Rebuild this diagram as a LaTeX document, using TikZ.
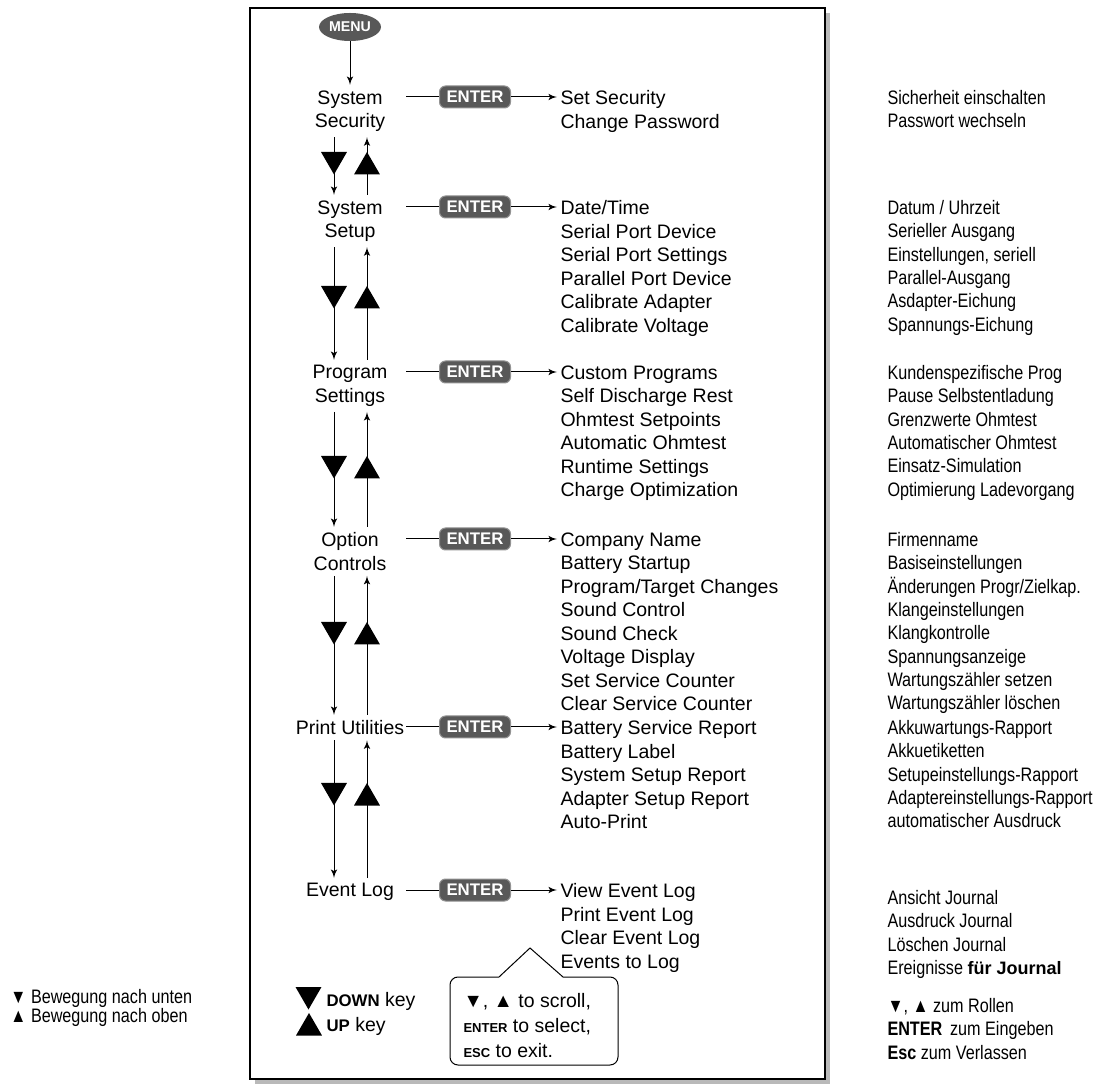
\documentclass[tikz,border=0pt]{standalone}
\usepackage{fontspec}
\setmainfont{Liberation Sans}
\newfontfamily\narrowfont[FakeStretch=0.83]{Liberation Sans}
\usetikzlibrary{positioning, calc, arrows, shapes.geometric}
\definecolor{keygray}{RGB}{88,88,88}
\tikzstyle{menubtn}=[ellipse, fill=keygray, text=white, minimum width=31pt, minimum height=14pt, inner sep=0pt, font=\bfseries\fontsize{7.1}{8}\selectfont]
\tikzstyle{menuitem}=[anchor=north, align=center, inner xsep=0pt, inner ysep=2.5pt]
\tikzstyle{enterkey}=[rounded corners=3pt, fill=keygray, draw=keygray!65, text=white, minimum width=35.5pt, minimum height=11pt, inner sep=0pt, font=\bfseries\fontsize{8.4}{10}\selectfont]
\tikzstyle{sublist}=[anchor=north west, align=left, inner sep=1.5pt]
\tikzstyle{german}=[anchor=north west, align=left, inner sep=0pt, font=\narrowfont\fontsize{9.75}{11.65}\selectfont]
\tikzstyle{downtri}=[regular polygon, regular polygon sides=3, regular polygon rotate=180, minimum size=15pt, inner sep=0pt, fill=black]
\tikzstyle{uptri}=[regular polygon, regular polygon sides=3, minimum size=15pt, inner sep=0pt, fill=black]

\begin{document}
\begin{tikzpicture}[x=0.5pt, y=-0.5pt, >=latex', line width=0.5pt, font=\fontsize{9.75}{11.75}\selectfont]
    \useasboundingbox (0,0) rectangle (1099,1085);
    % frame
    \fill[gray!55] (255,13) rectangle (830,1084);
    \draw[fill=white, line width=1pt] (250,8) rectangle (825,1079);

    \coordinate (dn) at (334,0);
    \coordinate (up) at (367,0);
    \coordinate (ls) at (406,0);

    \node [menubtn] (menu) at (350,27) {MENU};

    \node [menuitem] (sec) at (350,85) {System\\Security};
    \node [menuitem] (setup) at (350,195) {System\\Setup};
    \node [menuitem] (prog) at (350,360) {Program\\Settings};
    \node [menuitem] (opt) at (350,527) {Option\\Controls};
    \node [menuitem] (prnt) at (350,715) {Print Utilities};
    \node [menuitem] (evlog) at (350,878) {Event Log};

    \node [enterkey] (e1) at (475,97) {ENTER};
    \node [enterkey] (e2) at (475,207) {ENTER};
    \node [enterkey] (e3) at (475,372) {ENTER};
    \node [enterkey] (e4) at (475,539) {ENTER};
    \node [enterkey] (e5) at (475,727) {ENTER};
    \node [enterkey] (e6) at (475,890) {ENTER};

    \node [sublist] (secL) at (557,87) {Set Security\\Change Password};
    \node [sublist] (setupL) at (557,197) {Date/Time\\Serial Port Device\\Serial Port Settings\\Parallel Port Device\\Calibrate Adapter\\Calibrate Voltage};
    \node [sublist] (progL) at (557,362) {Custom Programs\\Self Discharge Rest\\Ohmtest Setpoints\\Automatic Ohmtest\\Runtime Settings\\Charge Optimization};
    \node [sublist] (optL) at (557,529) {Company Name\\Battery Startup\\Program/Target Changes\\Sound Control\\Sound Check\\Voltage Display\\Set Service Counter\\Clear Service Counter};
    \node [sublist] (prntL) at (557,717) {Battery Service Report\\Battery Label\\System Setup Report\\Adapter Setup Report\\Auto-Print};
    \node [sublist] (evL) at (557,880) {View Event Log\\Print Event Log\\Clear Event Log\\Events to Log};

    \node [german] (secG) at (887,90) {Sicherheit einschalten\\Passwort wechseln};
    \node [german] (setupG) at (887,200) {Datum / Uhrzeit\\Serieller Ausgang\\Einstellungen, seriell\\Parallel-Ausgang\\Asdapter-Eichung\\Spannungs-Eichung};
    \node [german] (progG) at (887,365) {Kundenspezifische Prog\\Pause Selbstentladung\\Grenzwerte Ohmtest\\Automatischer Ohmtest\\Einsatz-Simulation\\Optimierung Ladevorgang};
    \node [german] (optG) at (887,532) {Firmenname\\Basiseinstellungen\\Änderungen Progr/Zielkap.\\Klangeinstellungen\\Klangkontrolle\\Spannungsanzeige\\Wartungszähler setzen\\Wartungszähler löschen};
    \node [german] (prntG) at (887,720) {Akkuwartungs-Rapport\\Akkuetiketten\\Setupeinstellungs-Rapport\\Adaptereinstellungs-Rapport\\automatischer Ausdruck};
    \node [german] (evG) at (887,890) {Ansicht Journal\\Ausdruck Journal\\Löschen Journal\\Ereignisse {\rmfamily\bfseries\fontsize{9}{11}\selectfont für Journal}};
    \node [german] (keysG) at (887,998) {▼, ▲ zum Rollen\\\textbf{ENTER}\, zum Eingeben\\\textbf{Esc} zum Verlassen};

    \node [german, anchor=west, font=\narrowfont\fontsize{9.75}{9.5}\selectfont] (moves) at (10,1008) {▼ Bewegung nach unten\\▲ Bewegung nach oben};

    % menu flow
    \draw[->] (menu) -- (sec);
    \foreach \a/\b in {sec/setup, setup/prog, prog/opt, opt/prnt, prnt/evlog} {
        \draw[->] (\a.south -| dn) -- (\b.north -| dn);
        \draw[->] (\b.north -| up) -- (\a.south -| up);
    }
    \foreach \t in {152, 286, 456, 622, 783} {
        \node [downtri] at (334,\t+7.5) {};
        \node [uptri] at (367,\t+15) {};
    }

    % enter lines
    \foreach \k/\l in {e1/secL, e2/setupL, e3/progL, e4/optL, e5/prntL, e6/evL} {
        \draw (\k.west -| ls) -- (\k.west);
        \draw[->] (\k.east) -- (\k.east -| \l.west);
    }

    % key legend
    \node [downtri] (dtri) at (308.5,994.5) {};
    \node [uptri] (utri) at (309,1028) {};
    \node [anchor=west, inner sep=0pt] (dkey) at (326,1001) {{\bfseries\fontsize{8.4}{10}\selectfont DOWN} key};
    \node [anchor=west, inner sep=0pt] (ukey) at (326,1026) {{\bfseries\fontsize{8.4}{10}\selectfont UP} key};

    % callout
    \draw (530,948) -- (563,977) [rounded corners=4pt] -- (618,977) -- (618,1065) -- (450,1065) -- (450,977) [sharp corners] -- (499,977) -- cycle;
    \node [anchor=north west, align=left, inner sep=0pt, font=\fontsize{9.75}{12.5}\selectfont] (hint) at (463,993) {▼, ▲ to scroll,\\{\bfseries\fontsize{6.5}{8}\selectfont ENTER} to select,\\{\bfseries\fontsize{6.5}{8}\selectfont ESC} to exit.};
\end{tikzpicture}
\end{document}
